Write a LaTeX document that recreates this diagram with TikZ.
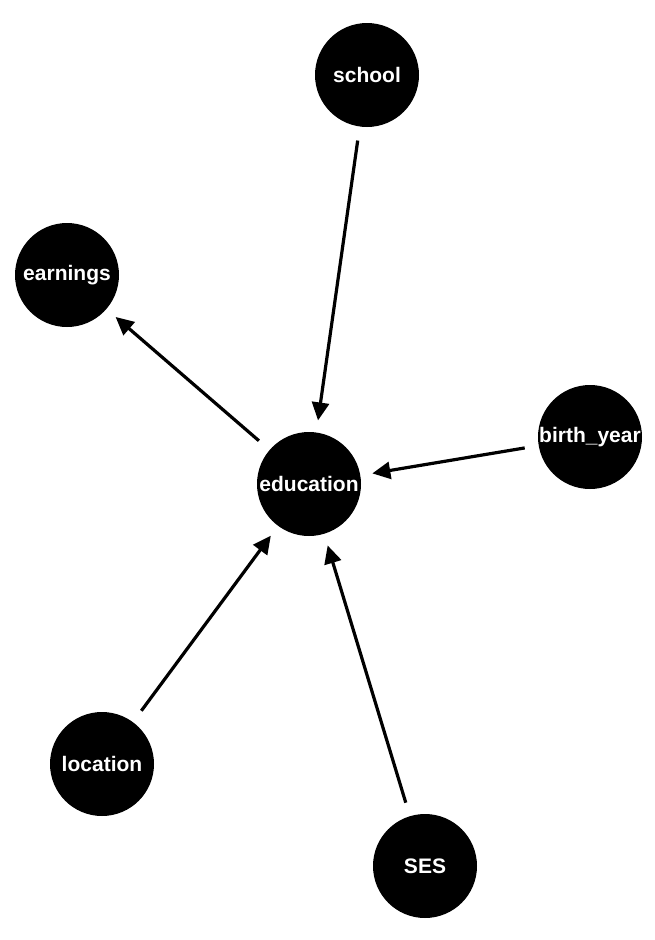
\documentclass[tikz,border=0pt]{standalone}
\usepackage{fontspec}
\setmainfont{Liberation Sans}
\usetikzlibrary{arrows.meta}
\begin{document}
\begin{tikzpicture}[x=1pt,y=-1pt,
  var/.style={circle,fill=black,minimum size=104pt,inner sep=0pt,text=white,font=\bfseries\fontsize{21}{24}\selectfont},
  edge/.style={line width=3.2pt,-{Triangle[length=18pt,width=17pt]},shorten >=12pt,shorten <=14pt}]
\useasboundingbox (0,0) rectangle (654,940);
\node[var] (school) at (367,75) {school};
\node[var] (earnings) at (67,275) {earnings};
\node[var] (education) at (309,484) {education};
\node[var] (birth) at (590,437) {birth\_year};
\node[var] (location) at (102,764) {location};
\node[var] (SES) at (425,866) {SES};
\draw[edge] (school) -- (education);
\draw[edge] (education) -- (earnings);
\draw[edge] (birth) -- (education);
\draw[edge] (location) -- (education);
\draw[edge] (SES) -- (education);
\end{tikzpicture}
\end{document}
